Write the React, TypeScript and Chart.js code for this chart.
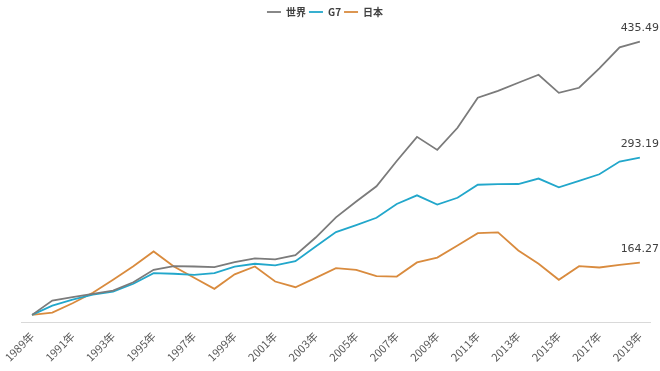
import React, { useEffect, useRef } from "react";
import { Chart, registerables } from "chart.js";

Chart.register(...registerables);

const categories = [
  "1989年", "1990年", "1991年", "1992年", "1993年", "1994年", "1995年", "1996年",
  "1997年", "1998年", "1999年", "2000年", "2001年", "2002年", "2003年", "2004年",
  "2005年", "2006年", "2007年", "2008年", "2009年", "2010年", "2011年", "2012年",
  "2013年", "2014年", "2015年", "2016年", "2017年", "2018年", "2019年",
];

const world = [
  100, 117.6, 121.7, 125.8, 129.9, 140.1, 155.4, 159.8, 159.4, 158.6, 164.7,
  169.3, 168.1, 173.4, 195, 219.8, 239.2, 257.9, 289, 318.6, 302.6, 329.8,
  366.6, 375, 385, 394.9, 372.7, 378.9, 402.8, 428.6, 435.49,
];

const g7 = [
  100, 111.4, 118.8, 125, 128.7, 138.2, 151.2, 150.5, 149.2, 151.2, 159.2,
  162.8, 160.7, 166, 184, 201.7, 210.3, 219.2, 236.2, 246.8, 235.5, 243.8,
  259.8, 260.5, 260.7, 267.4, 256.7, 264.5, 272.7, 288.3, 293.19,
];

const japan = [
  100, 102.8, 114.3, 127.1, 143.1, 159.8, 177.9, 159.4, 145.5, 132, 149.8,
  159.4, 141, 134, 145.5, 157.4, 155.4, 147.5, 147.1, 164.4, 170.3, 185.3,
  200.4, 201.3, 179.1, 162.8, 143.1, 159.8, 158.2, 161.5, 164.27,
];

const seriesNames = ["世界", "G7", "日本"];
const seriesColors = ["#7b7b7b", "#22a7cb", "#d98b3e"];

const yMin = 90.5;
const yMax = 453.5;

const endLabelPlugin = {
  id: "endLabels",
  afterDatasetsDraw(chart: any) {
    const ctx = chart.ctx;
    ctx.save();
    ctx.font = "11px 'DejaVu Sans'";
    ctx.fillStyle = "#404040";
    ctx.textAlign = "center";
    ctx.textBaseline = "bottom";
    chart.data.datasets.forEach((ds: any, i: number) => {
      const meta = chart.getDatasetMeta(i);
      const last = meta.data[meta.data.length - 1];
      const v = ds.data[ds.data.length - 1];
      ctx.fillText(v.toFixed(2), last.x, last.y - 8);
    });
    ctx.restore();
  },
};

export default function App() {
  const ref = useRef<HTMLCanvasElement>(null);
  useEffect(() => {
    if (!ref.current) return;
    const chart = new Chart(ref.current, {
      type: "line",
      data: {
        labels: categories,
        datasets: [world, g7, japan].map((d, i) => ({
          label: seriesNames[i],
          data: d,
          borderColor: seriesColors[i],
          backgroundColor: seriesColors[i],
          borderWidth: 1.8,
          pointRadius: 0,
          tension: 0,
          fill: false,
        })),
      },
      options: {
        animation: false,
        responsive: true,
        maintainAspectRatio: false,
        layout: { padding: { left: 0, right: 10, top: 4, bottom: 0 } },
        plugins: {
          legend: {
            position: "top",
            labels: {
              usePointStyle: true,
              pointStyle: "line",
              pointStyleWidth: 14,
              boxHeight: 10,
              padding: 3,
              color: "#404040",
              font: { family: "'Noto Sans CJK JP'", size: 10, weight: "bold" },
            },
          },
          tooltip: { enabled: false },
        },
        scales: {
          x: {
            offset: true,
            grid: { display: false, drawTicks: false },
            border: { display: true, color: "#d9d9d9", width: 1 },
            ticks: {
              autoSkip: false,
              maxRotation: 45,
              minRotation: 45,
              padding: 7,
              color: "#595959",
              font: { family: "'Noto Sans CJK JP'", size: 11 },
              callback: (_v: any, idx: number) => (idx % 2 === 0 ? categories[idx] : ""),
            },
          },
          y: {
            display: false,
            min: yMin,
            max: yMax,
          },
        },
      },
      plugins: [endLabelPlugin],
    });
    return () => chart.destroy();
  }, []);
  return (
    <div style={{ position: "fixed", left: 0, top: 0, width: 660, height: 371, background: "#fff" }}>
      <canvas ref={ref} />
    </div>
  );
}
